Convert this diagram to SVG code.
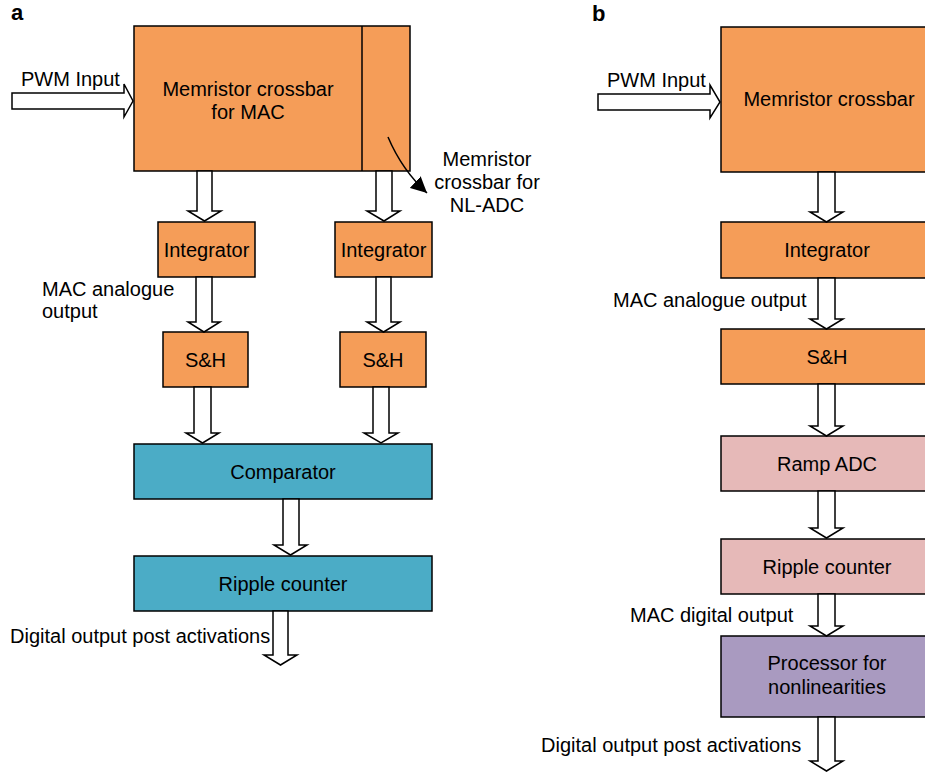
<svg xmlns="http://www.w3.org/2000/svg" width="925" height="774" viewBox="0 0 925 774">
<style>
text{font-family:"Liberation Sans",Arial,sans-serif;font-size:20px;fill:#000}
.c{text-anchor:middle}
.lbl{font-weight:bold;font-size:22px}
.box{stroke:#000;stroke-width:1.5}
.or{fill:#F59D58}
.tl{fill:#4BACC6}
.pk{fill:#E6B9B8}
.pu{fill:#A99AC0}
.ar{fill:#fff;stroke:#000;stroke-width:1.5;stroke-linejoin:miter}
</style>
<defs>
<marker id="ah" viewBox="0 0 10 10" refX="10" refY="5" markerWidth="16" markerHeight="16" markerUnits="userSpaceOnUse" orient="auto">
<path d="M0,0 L10,5 L0,10 z" fill="#000"/>
</marker>
</defs>
<rect width="925" height="774" fill="#fff"/>
<text class="lbl" x="11" y="20">a</text>
<text class="lbl" x="592" y="21">b</text>

<g id="a-crossbar">
<rect class="box or" x="134" y="26" width="276" height="145"/>
<line x1="362" y1="26" x2="362" y2="171" stroke="#000" stroke-width="1.5"/>
<text class="c" x="248" y="96">Memristor crossbar</text>
<text class="c" x="248" y="119">for MAC</text>
</g>
<g id="a-pwm-label"><text x="21" y="86">PWM Input</text></g>
<g id="a-nladc-label">
<text class="c" x="487" y="166">Memristor</text>
<text class="c" x="487" y="189">crossbar for</text>
<text class="c" x="487" y="212">NL-ADC</text>
</g>
<g id="a-integrator1"><rect class="box or" x="158" y="222" width="97" height="55"/><text class="c" x="206.5" y="256.5">Integrator</text></g>
<g id="a-integrator2"><rect class="box or" x="335" y="222" width="97" height="55"/><text class="c" x="383.5" y="256.5">Integrator</text></g>
<g id="a-mac-label"><text x="42" y="296">MAC analogue</text><text x="42" y="318">output</text></g>
<g id="a-sh1"><rect class="box or" x="163" y="332" width="85" height="55"/><text class="c" x="205.5" y="366.5">S&amp;H</text></g>
<g id="a-sh2"><rect class="box or" x="340" y="332" width="86" height="55"/><text class="c" x="383" y="366.5">S&amp;H</text></g>
<g id="a-comparator"><rect class="box tl" x="134" y="444" width="298" height="55"/><text class="c" x="283" y="478.5">Comparator</text></g>
<g id="a-ripple"><rect class="box tl" x="134" y="556" width="298" height="55"/><text class="c" x="283" y="590.5">Ripple counter</text></g>
<g id="a-out-label"><text x="10" y="643">Digital output post activations</text></g>

<g id="b-crossbar"><rect class="box or" x="721" y="27" width="212" height="145"/><text class="c" x="829" y="106">Memristor crossbar</text></g>
<g id="b-pwm-label"><text x="607" y="87">PWM Input</text></g>
<g id="b-integrator"><rect class="box or" x="721" y="222" width="212" height="56"/><text class="c" x="827" y="257">Integrator</text></g>
<g id="b-mac-label"><text x="613" y="307">MAC analogue output</text></g>
<g id="b-sh"><rect class="box or" x="721" y="329" width="212" height="55"/><text class="c" x="827" y="363.5">S&amp;H</text></g>
<g id="b-ramp"><rect class="box pk" x="721" y="436" width="212" height="55"/><text class="c" x="827" y="470.5">Ramp ADC</text></g>
<g id="b-ripple"><rect class="box pk" x="721" y="539" width="212" height="55"/><text class="c" x="827" y="573.5">Ripple counter</text></g>
<g id="b-mac-digital-label"><text x="630" y="622">MAC digital output</text></g>
<g id="b-processor"><rect class="box pu" x="721" y="636" width="212" height="81"/><text class="c" x="827" y="670">Processor for</text><text class="c" x="827" y="694">nonlinearities</text></g>
<g id="b-out-label"><text x="541" y="752">Digital output post activations</text></g>

<g id="connectors">
<!-- panel a -->
<polygon class="ar" points="12,93 124,93 124,84 133,101 124,117 124,109 12,109"/>
<polygon class="ar" points="197,171 197,211 188,211 204.5,221 221,211 212,211 212,171"/>
<polygon class="ar" points="376,171 376,211 367,211 384,221 400,211 392,211 392,171"/>
<polygon class="ar" points="196,277 196,322 188,322 204,332 220,322 212,322 212,277"/>
<polygon class="ar" points="376,277 376,322 367,322 383.5,332 400,322 391,322 391,277"/>
<polygon class="ar" points="194,387 194,433 186,433 202.5,443 219,433 211,433 211,387"/>
<polygon class="ar" points="373,387 373,433 364,433 381,443 398,433 389,433 389,387"/>
<polygon class="ar" points="283,499 283,545 274,545 290.5,555 307,545 299,545 299,499"/>
<polygon class="ar" points="273,611 273,655 264,655 280.5,665 297,655 288,655 288,611"/>
<path d="M388,137 Q402,170 427,193" fill="none" stroke="#000" stroke-width="1.5" marker-end="url(#ah)"/>
<!-- panel b -->
<polygon class="ar" points="598,94 710,94 710,85 720,102 710,118 710,110 598,110"/>
<polygon class="ar" points="818,172 818,212 810,212 826.5,222 843,212 835,212 835,172"/>
<polygon class="ar" points="818,278 818,319 810,319 826.5,329 843,319 835,319 835,278"/>
<polygon class="ar" points="818,384 818,426 810,426 826.5,436 843,426 835,426 835,384"/>
<polygon class="ar" points="818,491 818,528 810,528 826.5,538 843,528 835,528 835,491"/>
<polygon class="ar" points="818,594 818,626 810,626 826.5,636 843,626 835,626 835,594"/>
<polygon class="ar" points="818,717 818,761 810,761 826.5,771 843,761 835,761 835,717"/>
</g>
</svg>
